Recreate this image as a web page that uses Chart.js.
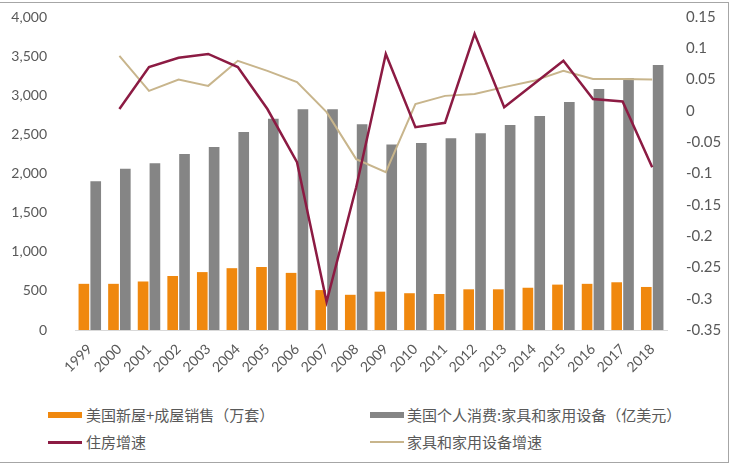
<!DOCTYPE html>
<html lang="zh">
<head>
    <meta charset="UTF-8">
    <title>美国住房与家具消费</title>
    <script src="https://cdn.jsdelivr.net/npm/chart.js"></script>
    <style>
        body { margin: 0; background: #fff; }
        #frame { position: absolute; left: 0; top: 2px; width: 728px; height: 459px; border: 1px solid #a6a6a6; border-left: none; }
        #wrap { position: absolute; left: 0; top: 0; width: 731px; height: 395px; }
        .lg { position: absolute; font-family: "Noto Sans CJK SC", sans-serif; font-size: 15px; color: #595959; line-height: 20px; white-space: nowrap; }
        .sw { position: absolute; }
    </style>
    <script>
        // 数据
        const years = ['1999','2000','2001','2002','2003','2004','2005','2006','2007','2008',
                       '2009','2010','2011','2012','2013','2014','2015','2016','2017','2018'];
        const houseSales = [590, 590, 620, 690, 740, 790, 805, 730, 510, 450,
                            490, 470, 460, 520, 520, 540, 580, 590, 610, 550];
        const furnitureSpend = [1900, 2060, 2130, 2250, 2340, 2530, 2700, 2820, 2820, 2630,
                                2370, 2390, 2450, 2515, 2620, 2735, 2915, 3080, 3220, 3385];
        const houseGrowth = [null, 0.003, 0.070, 0.085, 0.091, 0.070, 0.003, -0.082, -0.305, -0.122,
                             0.091, -0.026, -0.019, 0.123, 0.006, 0.043, 0.080, 0.019, 0.015, -0.090];
        const furnitureGrowth = [null, 0.088, 0.032, 0.050, 0.040, 0.080, 0.064, 0.046, -0.002, -0.077,
                                 -0.098, 0.011, 0.024, 0.027, 0.038, 0.048, 0.064, 0.051, 0.051, 0.050];

        document.addEventListener('DOMContentLoaded', () => {
            const tickFont = { family: 'Lato, "Liberation Sans", sans-serif', size: 14 };
            // 固定坐标轴宽度, 去掉刻度文字带来的上下留白
            const fixWidth = (w) => (s) => { s.width = w; s.paddingTop = 0; s.paddingBottom = 0; };
            const ctx = document.getElementById('chart').getContext('2d');
            new Chart(ctx, {
                type: 'bar',
                data: {
                    labels: years,
                    datasets: [
                        { type: 'line', label: '住房增速', data: houseGrowth, yAxisID: 'y1',
                          borderColor: '#8c1b43', borderWidth: 2.5, pointRadius: 0, tension: 0, order: 0 },
                        { type: 'line', label: '家具和家用设备增速', data: furnitureGrowth, yAxisID: 'y1',
                          borderColor: '#c8b58c', borderWidth: 2, pointRadius: 0, tension: 0, order: 1 },
                        { label: '美国新屋+成屋销售（万套）', data: houseSales, yAxisID: 'y',
                          backgroundColor: '#f0880e', order: 2, categoryPercentage: 0.8, barPercentage: 0.9 },
                        { label: '美国个人消费:家具和家用设备（亿美元）', data: furnitureSpend, yAxisID: 'y',
                          backgroundColor: '#858585', order: 2, categoryPercentage: 0.8, barPercentage: 0.9 }
                    ]
                },
                options: {
                    responsive: false,
                    animation: false,
                    layout: { autoPadding: false, padding: { top: 17, left: 0, right: 0, bottom: 0 } },
                    plugins: { legend: { display: false }, tooltip: { enabled: false } },
                    scales: {
                        x: {
                            offset: true,
                            grid: { display: false },
                            border: { color: '#d9d9d9' },
                            ticks: { color: '#595959', font: tickFont, minRotation: 45, maxRotation: 45, autoSkip: false },
                            afterFit: (s) => { s.height = 65; }
                        },
                        y: {
                            position: 'left',
                            min: 0, max: 4000,
                            grid: { display: false },
                            border: { display: false },
                            ticks: { stepSize: 500, color: '#595959', font: tickFont, padding: 20,
                                     callback: (v) => v.toLocaleString('en-US') },
                            afterFit: fixWidth(75)
                        },
                        y1: {
                            position: 'right',
                            min: -0.35, max: 0.15,
                            grid: { display: false },
                            border: { display: false },
                            ticks: { stepSize: 0.05, color: '#595959', font: { family: tickFont.family, size: 15 }, padding: 11,
                                     callback: (v) => String(Math.round(v * 100) / 100) },
                            afterFit: fixWidth(64)
                        }
                    }
                }
            });
        });
    </script>
</head>
<body>
    <div id="frame"></div>
    <div id="wrap"><canvas id="chart" width="731" height="395"></canvas></div>

    <div class="sw" style="left:48px; top:412px; width:34px; height:6px; background:#f0880e;"></div>
    <div class="lg" style="left:86px; top:405px;">美国新屋+成屋销售（万套）</div>
    <div class="sw" style="left:370px; top:412px; width:34px; height:6px; background:#858585;"></div>
    <div class="lg" style="left:407px; top:405px;">美国个人消费:家具和家用设备（亿美元）</div>

    <div class="sw" style="left:48px; top:441px; width:34px; height:2.5px; background:#8c1b43;"></div>
    <div class="lg" style="left:86px; top:432px;">住房增速</div>
    <div class="sw" style="left:370px; top:441px; width:34px; height:2px; background:#c8b58c;"></div>
    <div class="lg" style="left:407px; top:432px;">家具和家用设备增速</div>
</body>
</html>
